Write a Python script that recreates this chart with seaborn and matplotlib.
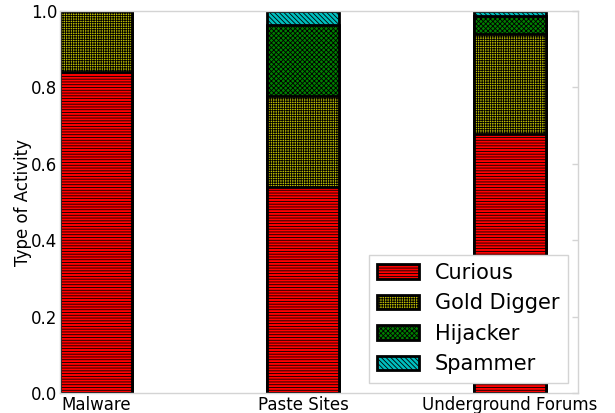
import matplotlib
matplotlib.use("Agg")
import matplotlib.pyplot as plt
import numpy as np
import pandas as pd
import seaborn as sns

# Share of each activity type per credential-leak outlet
outlets = ["Malware", "Paste Sites", "Underground Forums"]
activity_types = ["Curious", "Gold Digger", "Hijacker", "Spammer"]
curious = [0.840, 0.539, 0.678]
gold_digger = [0.160, 0.238, 0.262]
hijacker = [0.000, 0.186, 0.047]
spammer = [0.000, 0.037, 0.013]
yticks = [0.0, 0.2, 0.4, 0.6, 0.8, 1.0]

series = [curious, gold_digger, hijacker, spammer]
colors = ["#ff0000", "#bfbf00", "#008000", "#00bfbf"]
hatches = ["------", "+++++++", "xxxxxxx", "\\" * 7]

sns.set_style("white")
plt.rcParams["font.family"] = ["DejaVu Sans"]
plt.rcParams["hatch.linewidth"] = 0.6
for key in ("text.color", "axes.labelcolor", "xtick.color", "ytick.color"):
    plt.rcParams[key] = "black"

fig = plt.figure(figsize=(6.15, 4.13), dpi=100)
ax = fig.add_axes([60 / 615, 20 / 413, 518 / 615, 382 / 413])

# Stacked bars: draw the cumulative totals from the top layer down
cum = np.cumsum(np.array(series), axis=0)
for i in range(len(series) - 1, -1, -1):
    df = pd.DataFrame({"outlet": outlets, "value": cum[i]})
    sns.barplot(data=df, x="outlet", y="value", ax=ax, color=colors[i],
                saturation=1, width=0.35, edgecolor="black", linewidth=2,
                hatch=hatches[i], label=activity_types[i], zorder=2)

ax.set_xlim(-0.175, 2.33)
ax.set_ylim(0, 1)
ax.set_yticks(yticks)
ax.set_yticklabels([f"{v:.1f}" for v in yticks])
ax.set_xlabel("")
ax.set_ylabel("Type of Activity", fontsize=12, labelpad=-1, color="black")

spine_color = "#d4d4d4"
for s in ax.spines.values():
    s.set_color(spine_color)
    s.set_linewidth(1.0)
    s.set_visible(True)
ax.tick_params(axis="both", direction="in", length=4, width=1,
               color=spine_color, labelcolor="black", labelsize=12, pad=2,
               top=True, right=True, bottom=True, left=True)

handles, labels = ax.get_legend_handles_labels()
order = {lab: h for h, lab in zip(handles, labels)}
leg = ax.legend([order[a] for a in activity_types], activity_types,
                loc="lower right", fontsize=15, fancybox=False,
                framealpha=1, edgecolor=spine_color, borderpad=0.4,
                labelspacing=0.5, handlelength=2, handletextpad=0.75,
                borderaxespad=0.5)
leg.get_frame().set_linewidth(1.0)
for t in leg.get_texts():
    t.set_color("black")

fig.savefig("out.png", dpi=100)
